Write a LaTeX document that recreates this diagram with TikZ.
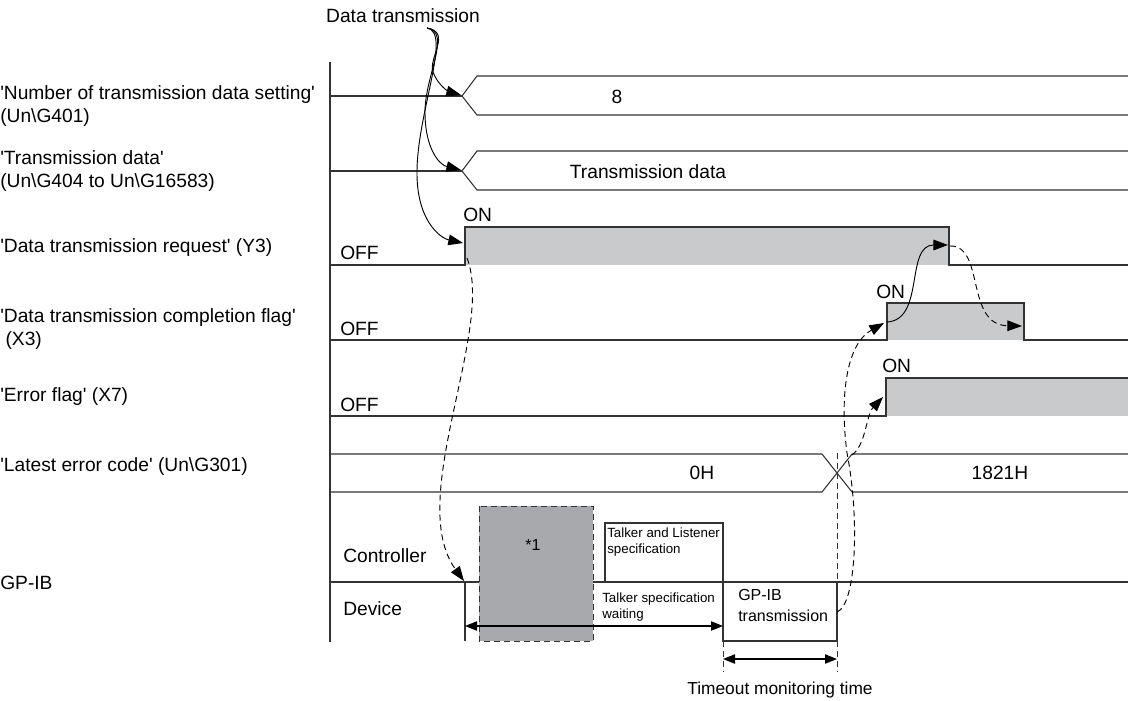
\documentclass[tikz,border=0pt]{standalone}
\usepackage{fontspec}
\setmainfont{Liberation Sans}[Ligatures=TeXOff]
\usetikzlibrary{arrows.meta,positioning,calc}
\definecolor{ln}{HTML}{333333}
\definecolor{onfill}{HTML}{C9CACB}
\definecolor{blkfill}{HTML}{A7A9AC}
\tikzset{
  wave/.style={draw=ln,line width=0.8pt},
  lbl/.style={font=\fontsize{14.4}{17.5}\selectfont,inner sep=0pt,align=left},
  sml/.style={font=\fontsize{10}{11.5}\selectfont,inner sep=0pt,align=left},
  arr/.style={-{Triangle[length=11pt,width=8pt]},line width=0.7pt},
  darr/.style={arr,dash pattern=on 4.5pt off 3pt},
  dim/.style={{Triangle[length=9pt,width=7pt]}-{Triangle[length=9pt,width=7pt]},line width=0.8pt},
}
\begin{document}
\begin{tikzpicture}[x=0.75pt,y=-0.75pt]
 \useasboundingbox (0,0) rectangle (1128,700);
 % signal names
 \node[lbl,anchor=west] (nG401) at (0,106) {'Number of transmission data setting'\\(Un\textbackslash G401)};
 \node[lbl,anchor=west] (nG404) at (0,171) {'Transmission data'\\(Un\textbackslash G404 to Un\textbackslash G16583)};
 \node[lbl,anchor=west] (nY3) at (0,248) {'Data transmission request' (Y3)};
 \node[lbl,anchor=west] (nX3) at (0,329) {'Data transmission completion flag'\\~(X3)};
 \node[lbl,anchor=west] (nX7) at (0,397) {'Error flag' (X7)};
 \node[lbl,anchor=west] (nG301) at (0,467) {'Latest error code' (Un\textbackslash G301)};
 \node[lbl,anchor=west] (ngpib) at (0,583) {GP-IB};
 \draw[wave] (330,62) -- (330,642);
 % bus signals
 \foreach \y in {96,171}{
   \draw[wave] (330,\y) -- (462,\y);
   \draw[wave] (1128,\y-20) -- (477,\y-20) -- (462,\y) -- (477,\y+19) -- (1128,\y+19);
 }
 \node[lbl] (v8) at (617,97) {8};
 \node[lbl] (vtd) at (648,172) {Transmission data};
 % Y3
 \fill[onfill] (465,227) rectangle (949,265);
 \draw[wave] (330,265) -- (465,265) -- (465,227) -- (949,227) -- (949,265) -- (1128,265);
 % X3
 \fill[onfill] (887,303) rectangle (1024,340);
 \draw[wave] (330,340) -- (887,340) -- (887,303) -- (1024,303) -- (1024,340) -- (1128,340);
 % X7
 \fill[onfill] (886,378) rectangle (1128,416);
 \draw[wave] (330,416) -- (886,416) -- (886,378) -- (1128,378);
 \node[lbl,anchor=west] (offY3) at (340,253) {OFF};
 \node[lbl,anchor=west] (offX3) at (340,329) {OFF};
 \node[lbl,anchor=west] (offX7) at (340,405) {OFF};
 \node[lbl,anchor=west] (onY3) at (463,215) {ON};
 \node[lbl,anchor=west] (onX3) at (876,292) {ON};
 \node[lbl,anchor=west] (onX7) at (882,366) {ON};
 % error code
 \draw[wave] (330,454) -- (822,454) -- (852,492) -- (1128,492);
 \draw[wave] (330,492) -- (822,492) -- (852,454) -- (1128,454);
 \node[lbl] (v0H) at (702,473) {0H};
 \node[lbl] (v1821) at (1000,473) {1821H};
 % GP-IB
 \draw[wave] (330,582) -- (1128,582);
 \draw[wave] (465,582) -- (465,641);
 \draw[ln,line width=0.7pt,dash pattern=on 4.5pt off 3pt,fill=blkfill] (479,506) rectangle (593,641);
 \node[lbl,font=\fontsize{12}{14}\selectfont] (star) at (533,545) {*1};
 \draw[wave] (605,582) rectangle (723,523);
 \draw[wave] (723,582) rectangle (837,641);
 \node[sml,anchor=north west] (tls) at (607,528) {Talker and Listener\\specification};
 \node[sml,anchor=north west] (tsw) at (602,593) {Talker specification\\waiting};
 \node[lbl,font=\fontsize{12}{15.5}\selectfont,anchor=north west] (gtx) at (738,589) {GP-IB\\transmission};
 \node[lbl,anchor=west] (ctrl) at (343,556) {Controller};
 \node[lbl,anchor=west] (dev) at (343,609) {Device};
 \draw[dim] (465,626) -- (723,626);
 \draw[ln,line width=0.7pt,dash pattern=on 4.5pt off 3pt] (723,641) -- (723,672);
 \draw[ln,line width=0.7pt,dash pattern=on 4.5pt off 3pt] (837,453) -- (837,582) (837,641) -- (837,672);
 \draw[dim] (723,659) -- (837,659);
 \node[lbl,font=\fontsize{13}{15}\selectfont] (tmo) at (780,690) {Timeout monitoring time};
 % arrows
 \node[lbl] (dtx) at (403,16) {Data transmission};
 \coordinate (dt) at (427,28);
 \coordinate (e1) at (461,95);
 \coordinate (e2) at (461,170);
 \coordinate (e3) at (463,243);
 \draw[arr] (dt) .. controls (452,32) and (428,58) .. (433,72) .. controls (438,86) and (450,92) .. (e1);
 \draw[arr] (dt) .. controls (452,32) and (425,75) .. (425,112) .. controls (425,150) and (440,165) .. (e2);
 \draw[arr] (dt) .. controls (452,32) and (418,110) .. (417,170) .. controls (416,220) and (440,238) .. (e3);
 \draw[darr] (467,258) .. controls (495,330) and (405,500) .. (464,581);
 \draw[arr] (887,322) .. controls (925,320) and (905,245) .. (948,245);
 \draw[darr] (950,246) .. controls (985,245) and (965,325) .. (1022,326);
 \draw[darr] (837,612) .. controls (856,605) and (860,520) .. (847,453)
   .. controls (840,400) and (845,345) .. (884,323);
 \draw[darr] (852,455) .. controls (866,445) and (866,415) .. (883,397);
\end{tikzpicture}
\end{document}
